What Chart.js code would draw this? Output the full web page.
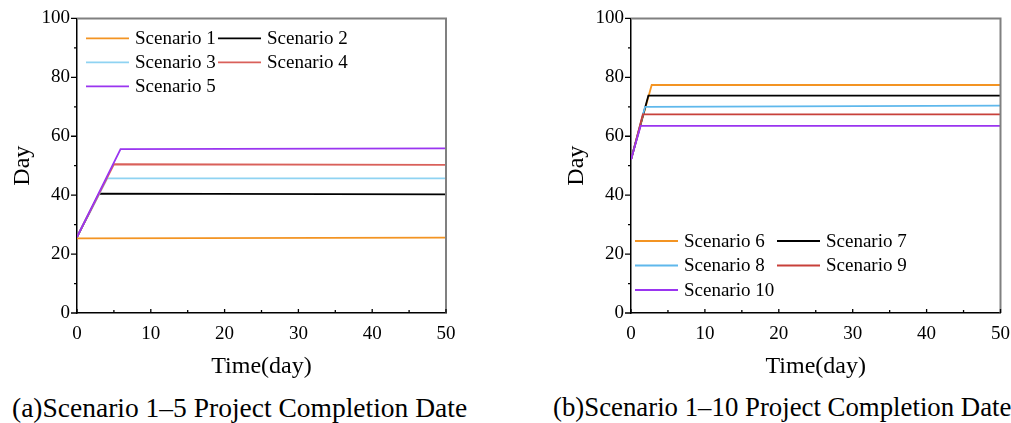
<!DOCTYPE html>
<html>
<head>
<meta charset="utf-8">
<script src="https://cdn.jsdelivr.net/npm/chart.js@4.4.0/dist/chart.umd.min.js"></script>
<style>
  html, body { margin: 0; padding: 0; background: #fff; }
  body { width: 1011px; height: 423px; position: relative; overflow: hidden; }
  .panel { position: absolute; top: 0; height: 385px; }
  .caption {
    position: absolute; top: 392px; white-space: nowrap;
    font-family: 'Liberation Serif', 'Times New Roman', serif;
    font-size: 27.5px; line-height: 31px; color: #000;
  }
</style>
</head>
<body>
<div class="panel" style="left:0;width:505px"><canvas id="chartA"></canvas></div>
<div class="panel" style="left:540px;width:480px"><canvas id="chartB"></canvas></div>
<div class="caption" style="left:12px">(a)Scenario 1–5 Project Completion Date</div>
<div class="caption" style="left:553px;font-size:26.8px">(b)Scenario 1–10 Project Completion Date</div>
<script>
// Panel (a): scenarios 1-5
const namesA = ["Scenario 1", "Scenario 2", "Scenario 3", "Scenario 4", "Scenario 5"];
const daysA = [
  [0, 50],
  [0, 3.0, 50],
  [0, 4.1, 50],
  [0, 5.0, 50],
  [0, 5.9, 50],
];
const valuesA = [
  [25.3, 25.6],
  [25.8, 40.5, 40.3],
  [25.8, 45.7, 45.7],
  [25.8, 50.5, 50.3],
  [25.8, 55.6, 55.9],
];

// Panel (b): scenarios 6-10
const namesB = ["Scenario 6", "Scenario 7", "Scenario 8", "Scenario 9", "Scenario 10"];
const daysB = [
  [0, 2.8, 50],
  [0, 2.35, 50],
  [0, 1.9, 50],
  [0, 1.6, 50],
  [0, 1.3, 50],
];
const valuesB = [
  [52, 77.4, 77.4],
  [52, 73.8, 73.8],
  [52, 70.0, 70.4],
  [52, 67.4, 67.4],
  [52, 63.5, 63.5],
];

const colorsA = ["#f39423", "#000000", "#8fd3f2", "#d9605a", "#9a35f0"];
const colorsB = ["#f39423", "#000000", "#5fb8ec", "#c8403a", "#9a35f0"];

const yTicks = [0, 20, 40, 60, 80, 100];
const yMinor = [10, 30, 50, 70, 90];
const xTicks = [0, 10, 20, 30, 40, 50];
const xMinor = [5, 15, 25, 35, 45];

const serif = "'Liberation Serif', 'Times New Roman', serif";
Chart.defaults.font.family = serif;
Chart.defaults.color = "#000";

// frame, tick marks and the inside legend
const decorPlugin = {
  id: "decor",
  afterDraw(chart, args, opts) {
    const ctx = chart.ctx;
    const a = chart.chartArea;
    const xs = chart.scales.x;
    const ys = chart.scales.y;
    ctx.save();
    // grey top/right frame
    ctx.strokeStyle = "#808080";
    ctx.lineWidth = 2;
    ctx.beginPath();
    ctx.moveTo(a.left, a.top);
    ctx.lineTo(a.right, a.top);
    ctx.lineTo(a.right, a.bottom);
    ctx.stroke();

    ctx.strokeStyle = "#000";
    ctx.lineWidth = 1.3;
    ctx.beginPath();
    yTicks.forEach((v) => {
      const y = ys.getPixelForValue(v);
      ctx.moveTo(a.left, y);
      ctx.lineTo(a.left - 6, y);
    });
    yMinor.forEach((v) => {
      const y = ys.getPixelForValue(v);
      ctx.moveTo(a.left, y);
      ctx.lineTo(a.left - 3, y);
    });
    xTicks.forEach((v) => {
      const x = xs.getPixelForValue(v);
      ctx.moveTo(x, a.bottom);
      ctx.lineTo(x, a.bottom - 4);
    });
    xMinor.forEach((v) => {
      const x = xs.getPixelForValue(v);
      ctx.moveTo(x, a.bottom);
      ctx.lineTo(x, a.bottom - 3);
    });
    ctx.stroke();

    // legend, two columns
    const lg = opts.legend;
    ctx.font = "19px " + serif;
    ctx.textBaseline = "middle";
    ctx.fillStyle = "#000";
    chart.data.datasets.forEach((ds, i) => {
      const col = i % 2;
      const row = Math.floor(i / 2);
      const x0 = a.left + lg.x + col * lg.colGap;
      const y0 = lg.fromBottom
        ? a.bottom - lg.y + row * lg.rowH
        : a.top + lg.y + row * lg.rowH;
      ctx.strokeStyle = ds.borderColor;
      ctx.lineWidth = 1.8;
      ctx.beginPath();
      ctx.moveTo(x0, y0);
      ctx.lineTo(x0 + lg.lineLen, y0);
      ctx.stroke();
      ctx.fillText(ds.label, x0 + lg.lineLen + lg.textGap, y0 + 1);
    });
    ctx.restore();
  },
};

function buildDatasets(names, days, values, colors) {
  return names.map((name, i) => ({
    label: name,
    data: days[i].map((d, j) => ({ x: d, y: values[i][j] })),
    borderColor: colors[i],
    backgroundColor: colors[i],
    borderWidth: 1.8,
    pointRadius: 0,
    tension: 0,
    fill: false,
    order: names.length - i,
  }));
}

function makeChart(id, datasets, cfg) {
  return new Chart(document.getElementById(id), {
    type: "line",
    data: { datasets: datasets },
    options: {
      responsive: true,
      maintainAspectRatio: false,
      animation: false,
      layout: { padding: { top: 16, right: cfg.padRight, bottom: 0, left: 0 } },
      plugins: {
        legend: { display: false },
        tooltip: { enabled: false },
        decor: { legend: cfg.legend },
      },
      scales: {
        x: {
          type: "linear",
          min: 0,
          max: 50,
          grid: { display: false, drawTicks: false },
          border: { display: true, color: "#000", width: 1.5 },
          ticks: { stepSize: 10, padding: 10, maxRotation: 0, font: { size: 19 } },
          title: {
            display: true,
            text: "Time(day)",
            font: { size: 24 },
            padding: { top: 0, bottom: 4 },
          },
          afterFit: (scale) => { scale.height = 72; },
        },
        y: {
          min: 0,
          max: 100,
          grid: { display: false, drawTicks: false },
          border: { display: true, color: "#000", width: 1.5 },
          ticks: { stepSize: 20, padding: 7, font: { size: 19 } },
          title: {
            display: true,
            text: "Day",
            font: { size: 24 },
            padding: { top: cfg.yTitlePad, bottom: 0 },
          },
          afterFit: (scale) => { scale.width = cfg.yWidth; },
        },
      },
    },
    plugins: [decorPlugin],
  });
}

makeChart("chartA", buildDatasets(namesA, daysA, valuesA, colorsA), {
  padRight: 59,
  yWidth: 77,
  yTitlePad: 8,
  legend: { x: 9, y: 20, fromBottom: false, colGap: 132, rowH: 24, lineLen: 43, textGap: 6 },
});

makeChart("chartB", buildDatasets(namesB, daysB, valuesB, colorsB), {
  padRight: 12,
  yWidth: 91,
  yTitlePad: 22,
  legend: { x: 4, y: 72, fromBottom: true, colGap: 142, rowH: 24.5, lineLen: 43, textGap: 6 },
});
</script>
</body>
</html>
